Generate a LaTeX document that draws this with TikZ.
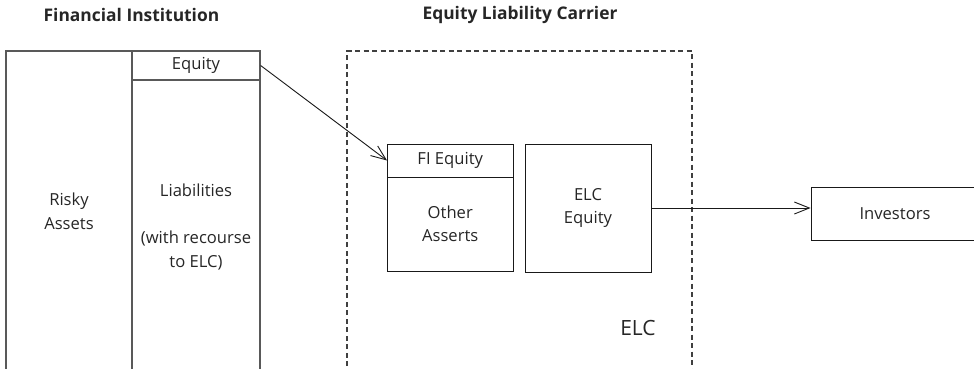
\documentclass[tikz,border=0pt]{standalone}
\usepackage{fontspec}
\setmainfont{Open Sans}
\usetikzlibrary{arrows.meta}
\begin{document}
\begin{tikzpicture}[x=1pt,y=-1pt,
  txt/.style={font=\fontsize{16.6}{23.5}\selectfont, text=black!85, align=center, inner sep=0pt},
  ttl/.style={font=\fontsize{17.4}{20}\selectfont\bfseries, text=black!85, inner sep=0pt},
  filine/.style={draw=black!65, line width=1.3pt},
  box/.style={draw=black!90, line width=0.9pt, inner sep=0pt, txt},
  elcline/.style={draw=black!75, line width=1.1pt, dash pattern=on 5pt off 3.5pt},
  conn/.style={draw=black!90, line width=0.9pt, -{Straight Barb[length=15pt,width=12pt,line width=0.9pt]}}
]
\useasboundingbox (0,0) rectangle (974,368);
\clip (0,0) rectangle (974,368);
% titles
\node[ttl] (t1) at (131.5,15) {Financial Institution};
\node[ttl] (t2) at (520,15) {Equity Liability Carrier};
% financial institution balance sheet (open at bottom)
\draw[filine] (6,400) -- (6,51) -- (260,51) -- (260,400);
\draw[filine] (132,51) -- (132,400);
\node[box, draw=black!65, line width=1.3pt, minimum width=128, minimum height=29] (equity) at (196,65.5) {Equity};
\node[txt] (risky) at (69,211.5) {Risky\\Assets};
\node[txt] (liab) at (196,227) {Liabilities\\[23.5pt](with recourse\\to ELC)};
% ELC dashed region
\draw[elcline] (347,400) -- (347,51) -- (692,51) -- (692,400);
\node[txt, font=\fontsize{21}{24}\selectfont] (elc) at (638,328) {ELC};
\node[box, minimum width=125.5, minimum height=33] (fieq) at (450.25,160.5) {FI Equity};
\node[box, minimum width=125.5, minimum height=94] (other) at (450.25,224) {Other\\Asserts};
\node[box, minimum width=126, minimum height=128] (elceq) at (588,208) {ELC\\Equity};
% investors
\node[box, minimum width=168, minimum height=53] (inv) at (895,213.5) {Investors};
% connectors
\draw[conn] (equity.east) -- (fieq.west);
\draw[conn] (elceq.east) -- (elceq.east -| inv.west);
\end{tikzpicture}
\end{document}
